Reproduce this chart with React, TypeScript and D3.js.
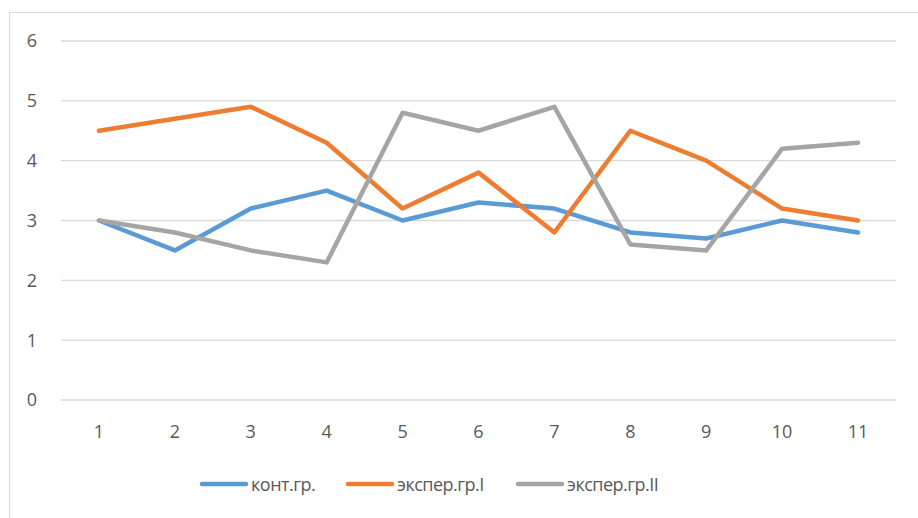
import { useEffect, useRef } from "react";
import * as d3 from "d3";

const categories = ["1", "2", "3", "4", "5", "6", "7", "8", "9", "10", "11"];
const kontGr = [3.0, 2.5, 3.2, 3.5, 3.0, 3.3, 3.2, 2.8, 2.7, 3.0, 2.8];
const eksperGr1 = [4.5, 4.7, 4.9, 4.3, 3.2, 3.8, 2.8, 4.5, 4.0, 3.2, 3.0];
const eksperGr2 = [3.0, 2.8, 2.5, 2.3, 4.8, 4.5, 4.9, 2.6, 2.5, 4.2, 4.3];
const yTicks = [0, 1, 2, 3, 4, 5, 6];

const series = [
  { name: "конт.гр.", values: kontGr, color: "#5B9BD5" },
  { name: "экспер.гр.I", values: eksperGr1, color: "#ED7D31" },
  { name: "экспер.гр.II", values: eksperGr2, color: "#A5A5A5" },
];

const App = () => {
  const ref = useRef<SVGSVGElement>(null);

  useEffect(() => {
    const svg = d3.select(ref.current);
    svg.selectAll("*").remove();

    const font = "'Open Sans', 'Liberation Sans', sans-serif";
    const textColor = "#595959";

    // outer border of the chart area
    svg
      .append("rect")
      .attr("x", 9.5)
      .attr("y", 12.5)
      .attr("width", 960)
      .attr("height", 560)
      .attr("fill", "white")
      .attr("stroke", "#D9D9D9")
      .attr("stroke-width", 1);

    const x = d3.scaleBand().domain(categories).range([61, 896]);
    const y = d3.scaleLinear().domain([0, 6]).range([400, 41]);

    // gridlines + y labels
    const g = svg.append("g");
    g.selectAll("line.grid")
      .data(yTicks)
      .enter()
      .append("line")
      .attr("x1", 61)
      .attr("x2", 896)
      .attr("y1", (d) => y(d))
      .attr("y2", (d) => y(d))
      .attr("stroke", "#D9D9D9")
      .attr("stroke-width", 1.3);

    g.selectAll("text.ylab")
      .data(yTicks)
      .enter()
      .append("text")
      .attr("x", 32)
      .attr("y", (d) => y(d))
      .attr("dy", "0.36em")
      .attr("text-anchor", "middle")
      .attr("font-family", font)
      .attr("font-size", 18)
      .attr("fill", textColor)
      .text((d) => d);

    g.selectAll("text.xlab")
      .data(categories)
      .enter()
      .append("text")
      .attr("x", (d) => (x(d) as number) + x.bandwidth() / 2)
      .attr("y", 432)
      .attr("dy", "0.36em")
      .attr("text-anchor", "middle")
      .attr("font-family", font)
      .attr("font-size", 18)
      .attr("fill", textColor)
      .text((d) => d);

    const line = d3
      .line<number>()
      .x((_, i) => (x(categories[i]) as number) + x.bandwidth() / 2)
      .y((d) => y(d));

    series.forEach((s) => {
      svg
        .append("path")
        .datum(s.values)
        .attr("d", line)
        .attr("fill", "none")
        .attr("stroke", s.color)
        .attr("stroke-width", 4.5)
        .attr("stroke-linejoin", "round")
        .attr("stroke-linecap", "round");
    });

    // legend
    const legendX = [200, 346, 516];
    series.forEach((s, i) => {
      svg
        .append("line")
        .attr("x1", legendX[i] + 2)
        .attr("x2", legendX[i] + 46)
        .attr("y1", 484)
        .attr("y2", 484)
        .attr("stroke", s.color)
        .attr("stroke-width", 4.5)
        .attr("stroke-linecap", "round");
      svg
        .append("text")
        .attr("x", legendX[i] + 51)
        .attr("y", 485)
        .attr("dy", "0.36em")
        .attr("font-family", font)
        .attr("font-size", 18)
        .attr("letter-spacing", -0.5)
        .attr("fill", textColor)
        .text(s.name);
    });
  }, []);

  return (
    <svg
      ref={ref}
      width={918}
      height={518}
      style={{ position: "absolute", left: 0, top: 0 }}
    />
  );
};

export default App;
